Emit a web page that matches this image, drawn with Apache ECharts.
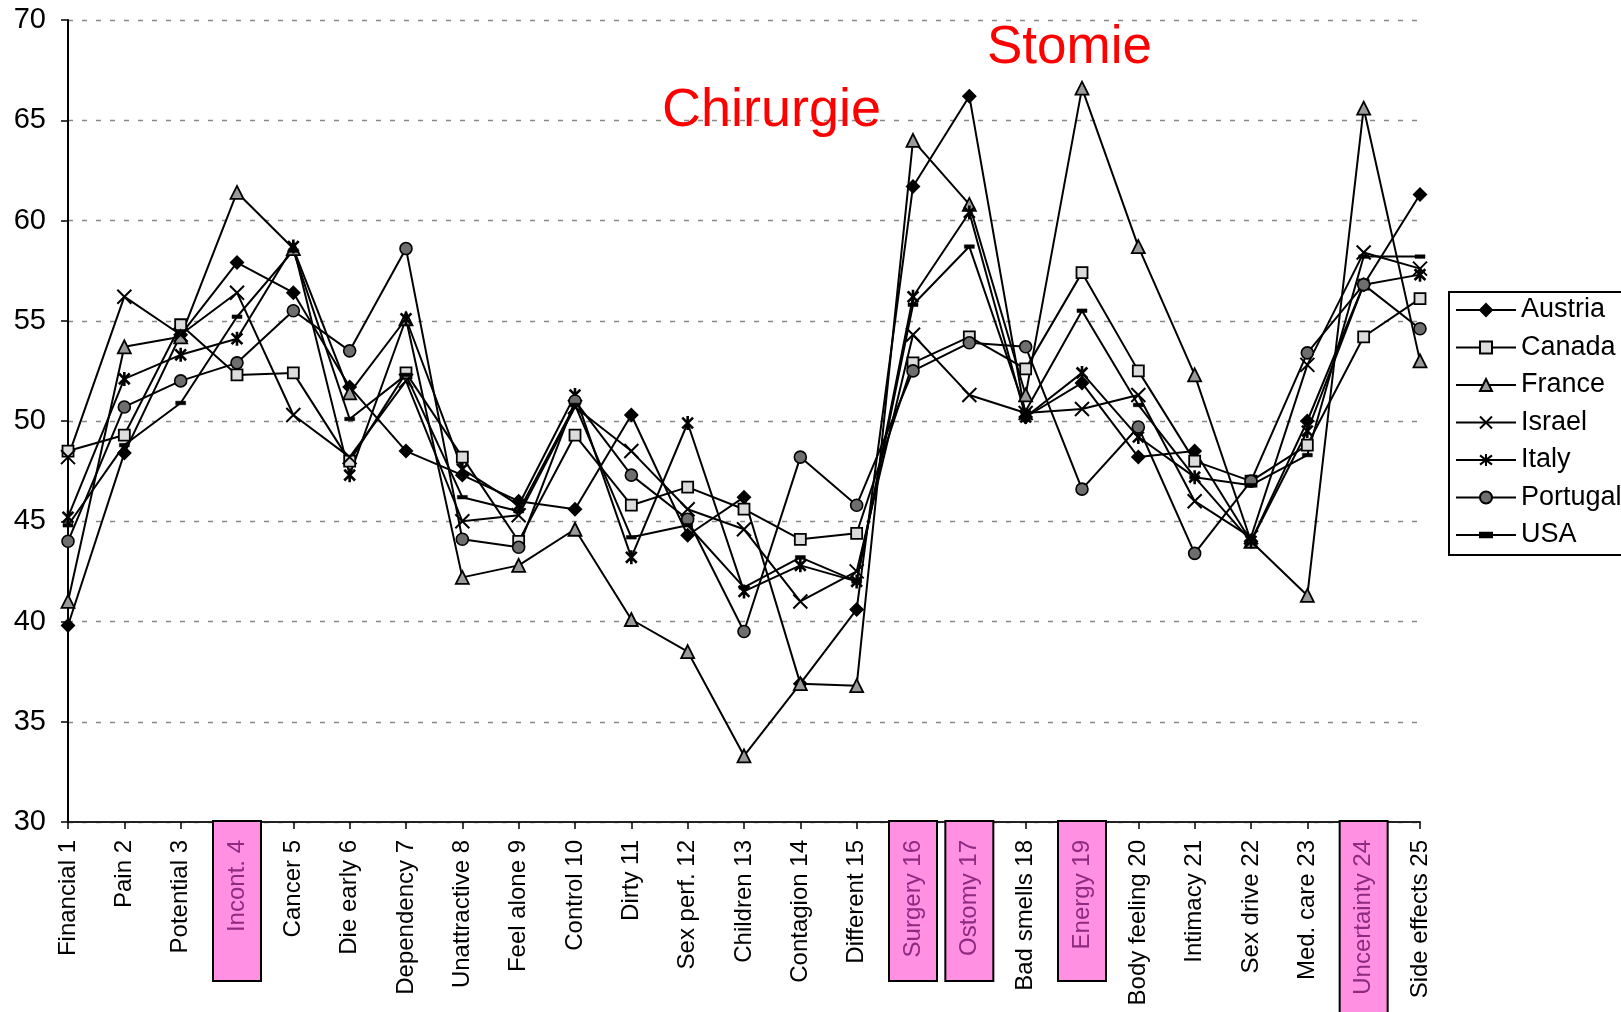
<!DOCTYPE html>
<html>
<head>
<meta charset="utf-8">
<script src="https://cdn.jsdelivr.net/npm/echarts@6/dist/echarts.min.js"></script>
<style>
html,body{margin:0;padding:0;background:#fff;}
#chart{width:1621px;height:1012px;}
</style>
</head>
<body>
<div id="chart"></div>
<script>
const categories = ['Financial 1','Pain 2','Potential 3','Incont. 4','Cancer 5','Die early 6','Dependency 7','Unattractive 8','Feel alone 9','Control 10','Dirty 11','Sex perf. 12','Children 13','Contagion 14','Different 15','Surgery 16','Ostomy 17','Bad smells 18','Energy 19','Body feeling 20','Intimacy 21','Sex drive 22','Med. care 23','Uncertainty 24','Side effects 25'];
const highlighted = ['Incont. 4','Surgery 16','Ostomy 17','Energy 19','Uncertainty 24'];
const yTicks = [30,35,40,45,50,55,60,65,70];

const austria  = [39.8,48.4,54.3,57.9,56.4,51.7,48.5,47.3,46.0,45.6,50.3,44.3,46.2,36.9,40.6,61.7,66.2,50.2,51.9,48.2,48.5,44.0,50.0,56.8,61.3];
const canada   = [48.5,49.3,54.8,52.3,52.4,48.0,52.4,48.2,44.0,49.3,45.8,46.7,45.6,44.1,44.4,52.9,54.2,52.6,57.4,52.5,48.0,47.0,48.8,54.2,56.1];
const france   = [41.0,53.7,54.2,61.4,58.6,51.4,55.1,42.2,42.8,44.6,40.1,38.5,33.3,36.9,36.8,64.0,60.8,51.3,66.6,58.7,52.3,44.0,41.3,65.6,53.0];
const israel   = [48.2,56.2,54.3,56.4,50.3,48.2,52.0,45.0,45.3,50.7,48.5,45.6,44.6,41.0,42.5,54.3,51.3,50.4,50.6,51.3,46.0,44.2,52.8,58.4,57.6];
const italy    = [45.2,52.1,53.3,54.1,58.7,47.3,55.1,47.6,45.8,51.3,43.2,49.9,41.5,42.8,42.0,56.2,60.4,50.2,52.4,49.2,47.2,44.0,49.5,56.8,57.3];
const portugal = [44.0,50.7,52.0,52.9,55.5,53.5,58.6,44.1,43.7,51.0,47.3,45.1,39.5,48.2,45.8,52.5,53.9,53.7,46.6,49.7,43.4,47.0,53.4,56.8,54.6];
const usa      = [44.8,48.8,50.9,55.2,58.5,50.1,52.3,46.2,45.5,50.8,44.2,44.8,41.7,43.2,42.0,55.8,58.7,50.5,55.5,50.8,47.2,46.8,48.3,58.2,58.2];

const FONT = "'Liberation Sans', Arial, sans-serif";

function mk(name, data, symbol, size, item) {
  return {
    name: name, type: 'line', data: data,
    symbol: symbol, symbolSize: size, symbolKeepAspect: true,
    showAllSymbol: true,
    lineStyle: { color: '#000', width: 2 },
    itemStyle: Object.assign({ color: '#000', borderColor: '#000', borderWidth: 1.4 }, item || {}),
    emphasis: { disabled: true },
    animation: false
  };
}

const chart = echarts.init(document.getElementById('chart'));
chart.setOption({
  backgroundColor: '#fff',
  animation: false,
  textStyle: { fontFamily: FONT },
  grid: { left: 68, right: 201, top: 20, bottom: 190, containLabel: false, outerBoundsMode: 'none' },
  legend: {
    orient: 'vertical', left: 1449, top: 292,
    padding: [3, 40, 5, 6],
    itemGap: 7.5, itemWidth: 60, itemHeight: 15,
    borderColor: '#000', borderWidth: 2,
    textStyle: { fontSize: 27, color: '#000', fontFamily: FONT, lineHeight: 30 },
    data: ['Austria','Canada','France','Israel','Italy','Portugal','USA']
  },
  xAxis: {
    type: 'category', data: categories, boundaryGap: false,
    axisLine: { lineStyle: { color: '#222', width: 2 } },
    axisTick: { show: true, length: 7, inside: false, lineStyle: { color: '#000', width: 1.5 } },
    splitLine: { show: false },
    axisLabel: {
      interval: 0, rotate: 90, margin: 0, color: '#000', fontSize: 24, fontFamily: FONT,
      formatter: function (v) {
        if (highlighted.indexOf(v) >= 0) {
          return (v.length > 11 ? '{hlL|' : '{hl|') + v + '}';
        }
        return '{n|' + v + '}';
      },
      rich: {
        n: { fontSize: 24, color: '#000', fontFamily: FONT, padding: [0, 18, 0, 0] },
        hl: { fontSize: 24, color: '#8e2a80', fontFamily: FONT, backgroundColor: '#ff90e2', borderColor: '#000', borderWidth: 2,
              width: 130, align: 'right', padding: [11, 18, 11, 10], lineHeight: 26 },
        hlL: { fontSize: 24, color: '#8e2a80', fontFamily: FONT, backgroundColor: '#ff90e2', borderColor: '#000', borderWidth: 2,
              width: 175, align: 'right', padding: [11, 18, 11, 10], lineHeight: 26 }
      }
    }
  },
  yAxis: {
    type: 'value', min: yTicks[0], max: yTicks[yTicks.length - 1], interval: 5,
    axisLine: { show: true, lineStyle: { color: '#000', width: 2 } },
    axisTick: { show: true, length: 7, lineStyle: { color: '#000', width: 1.5 } },
    axisLabel: { color: '#000', fontSize: 29, margin: 22, fontFamily: FONT },
    splitLine: { show: true, lineStyle: { color: '#888', width: 1.3, type: [5, 9] } }
  },
  graphic: [
    { type: 'text', x: 662, y: 111, style: { text: 'Chirurgie', fill: '#ff0000', fontSize: 54, fontFamily: FONT, verticalAlign: 'middle', align: 'left' }, z: 100 },
    { type: 'text', x: 987, y: 48, style: { text: 'Stomie', fill: '#ff0000', fontSize: 53, fontFamily: FONT, verticalAlign: 'middle', align: 'left' }, z: 100 }
  ],
  series: [
    mk('Austria', austria, 'diamond', 13, { color: '#000' }),
    mk('Canada', canada, 'rect', 11, { color: '#dcdcdc', borderWidth: 1.8 }),
    mk('France', france, 'triangle', 13, { color: '#9a9a9a', borderWidth: 1.8 }),
    mk('Israel', israel, 'path://M0,0L10,10M10,0L0,10', 14, { color: '#000', borderWidth: 2 }),
    mk('Italy', italy, 'path://M0,0L10,10M10,0L0,10M5,-1.5L5,11.5', 14, { color: '#000', borderWidth: 2.6 }),
    mk('Portugal', portugal, 'circle', 12, { color: '#6e6e6e', borderWidth: 1.6 }),
    mk('USA', usa, 'path://M0,0M0,3.2L10,3.2L10,6.8L0,6.8ZM10,10', 10, { color: '#000', borderWidth: 0.5 })
  ]
});
</script>
</body>
</html>
